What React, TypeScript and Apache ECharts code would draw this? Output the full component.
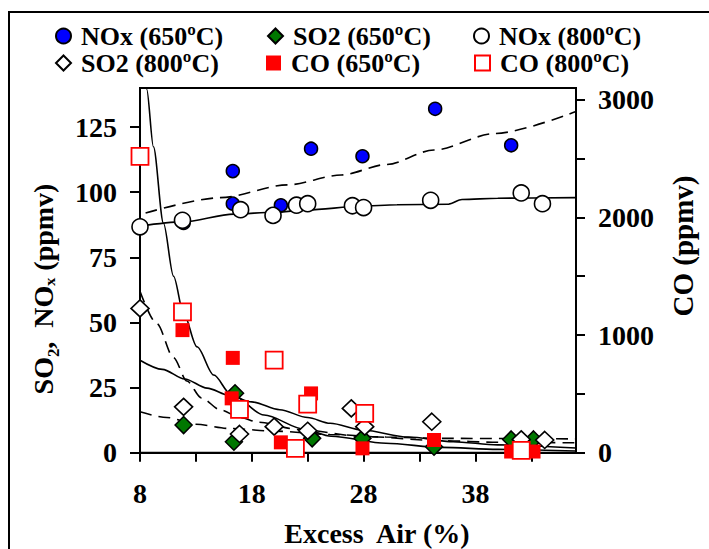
import React, { useEffect, useRef } from "react";
import * as echarts from "echarts";

const FONT = '"Liberation Serif", "Times New Roman", "DejaVu Serif", serif';

const legendNames = ["NOx (650ºC)", "SO2 (650ºC)", "NOx (800ºC)", "SO2 (800ºC)", "CO (650ºC)", "CO (800ºC)"];

// [excess air %, ppmv]
const noxAt650 = [[11.9, 88.2], [16.3, 108.1], [16.3, 95.6], [20.6, 95], [23.3, 116.7], [27.9, 113.8], [34.4, 132], [41.2, 118]];
const so2At650 = [[11.9, 10.6], [16.5, 22.8], [16.4, 4.2], [23.4, 5.5], [27.9, 5.5], [34.3, 2.3], [41.2, 5.1], [43.2, 5.1]];
const noxAt800 = [[8, 86.7], [11.8, 89.2], [17, 93.3], [19.9, 91.1], [22, 95], [23, 95.6], [27, 94.8], [28, 94.1], [34, 96.9], [42.1, 99.7], [44, 95.6]];
const so2At800 = [[8, 55.4], [11.9, 17.6], [16.9, 7.2], [20, 10], [23, 8.4], [26.9, 17], [28.1, 10], [34.1, 11.9], [42.1, 5.1], [44.2, 4.9]];
const coAt650 = [[11.8, 1042], [16.3, 806], [16.2, 462], [20.6, 88], [23.3, 504], [27.9, 37], [34.3, 108], [41.2, 10], [43.2, 10]];
const coAt800 = [[8, 2519], [11.8, 1197], [16.9, 368], [20, 787], [21.9, 37], [23, 413], [28.1, 334], [42.1, 20]];

// fitted trend curves
const noxFit800 = [[8, 87], [11.8, 88.6], [16.4, 91.6], [20, 92.3], [23, 93.2], [27.7, 94.6], [31, 95.2], [35.6, 95.4], [36.8, 97.2], [40, 97.7], [47, 97.9]];
const noxFit650 = [[8.5, 92], [15.2, 97.9], [21.2, 102.8], [26, 106.6], [30, 110.6], [34.3, 116.2], [39.7, 122.5], [47, 131]];
const coFit = [[8.3, 3400], [8.6, 3090], [9.2, 2600], [10.1, 1950], [11, 1500], [11.9, 1183], [13.1, 900], [14.6, 660], [16.1, 500], [19.1, 320], [22.7, 200], [25.1, 140], [30, 80], [35, 45], [40, 28], [47, 15]];
const so2FitSolid = [[8, 35.5], [10, 32], [12, 28.3], [14, 24.8], [16, 22], [18, 19.5], [20.5, 16.5], [23, 13.5], [25, 11.3], [28, 8.6], [32, 6], [36, 4.2], [40, 3], [47, 1.8]];
const so2FitSteep = [[8, 62], [9.5, 49.6], [11, 36.5], [12.2, 27.5], [13.5, 21], [15.2, 16.4], [17, 13.4], [18.6, 11.7], [22.2, 8.9], [28, 6.2], [35, 4.6], [40, 4], [47, 3.8]];
const so2FitFlat = [[8, 15.7], [10.4, 13.5], [13, 10.9], [16, 9.3], [20, 8.3], [25, 7], [30, 6], [35, 5.5], [47, 5.3]];

const xTickValues = [8, 13, 18, 23, 28, 33, 38, 43];
const xLabelValues = [8, 18, 28, 38];
const leftTickValues = [0, 25, 50, 75, 100, 125];
const rightTickValues = [0, 500, 1000, 1500, 2000, 2500, 3000];
const rightLabelValues = [0, 1000, 2000, 3000];

const labelStyle = { fontFamily: FONT, fontWeight: "bold", fontSize: 28, color: "#000" };
const plain = (v: number) => String(v);

function legendAt(name: string, left: number, top: number) {
  return {
    data: [name],
    left,
    top,
    padding: 0,
    itemGap: 0,
    itemWidth: 15,
    itemHeight: 15,
    selectedMode: false,
    textStyle: { fontFamily: FONT, fontWeight: "bold", fontSize: 26, lineHeight: 25, height: 25, color: "#000", padding: [0, 0, 0, 5] },
  };
}

function fitLine(data: number[][], yAxisIndex: number, dashed: boolean) {
  return {
    type: "line",
    data,
    yAxisIndex,
    symbol: "none",
    smooth: 0.3,
    smoothMonotone: "x",
    silent: true,
    z: 1,
    lineStyle: { color: "#000", width: 1.6, type: dashed ? [12, 7] : "solid" },
  };
}

function titleText(text: string, x: number, y: number, rotated: boolean, size: number) {
  return {
    type: "text",
    x,
    y,
    rotation: rotated ? Math.PI / 2 : 0,
    silent: true,
    style: { text, fill: "#000", font: `bold ${size}px ${FONT}`, align: "center", verticalAlign: "middle", textAlign: "center", textVerticalAlign: "middle" },
  };
}

export default function App() {
  const ref = useRef<HTMLDivElement>(null);
  useEffect(() => {
    const chart = echarts.init(ref.current!, null, { renderer: "svg" });
    chart.setOption({
      animation: false,
      backgroundColor: "#fff",
      legend: [
        legendAt(legendNames[0], 55, 23),
        legendAt(legendNames[1], 267, 23),
        legendAt(legendNames[2], 473, 23),
        legendAt(legendNames[3], 55, 50),
        legendAt(legendNames[4], 266, 50),
        legendAt(legendNames[5], 474, 50),
      ],
      grid: { left: 140, top: 88, width: 436, height: 364.7, show: true, borderColor: "#000", borderWidth: 2 },
      xAxis: {
        type: "value",
        min: 8,
        max: 47,
        axisLine: { onZero: false, lineStyle: { color: "#000", width: 2 } },
        axisTick: { customValues: xTickValues, length: 9, lineStyle: { color: "#000", width: 2 } },
        axisLabel: { customValues: xLabelValues, margin: 27, formatter: plain, ...labelStyle },
        splitLine: { show: false },
      },
      yAxis: [
        {
          type: "value",
          min: 0,
          max: 140,
          position: "left",
          axisLine: { show: true, onZero: false, lineStyle: { color: "#000", width: 2 } },
          axisTick: { show: true, customValues: leftTickValues, length: 10, lineStyle: { color: "#000", width: 2 } },
          axisLabel: { customValues: leftTickValues, margin: 23, formatter: plain, ...labelStyle },
          splitLine: { show: false },
        },
        {
          type: "value",
          min: 0,
          max: 3100,
          position: "right",
          axisLine: { show: true, onZero: false, lineStyle: { color: "#000", width: 2 } },
          axisTick: { show: true, customValues: rightTickValues, length: 9, lineStyle: { color: "#000", width: 2 } },
          axisLabel: { customValues: rightLabelValues, margin: 22, formatter: plain, ...labelStyle },
          splitLine: { show: false },
        },
      ],
      graphic: [
        { type: "rect", shape: { x: 9, y: 12, width: 720, height: 560 }, style: { fill: "none", stroke: "#000", lineWidth: 2 }, silent: true },
        titleText("SO₂,  NOₓ (ppmv)", 43, 289, true, 28),
        titleText("CO (ppmv)", 683, 246, true, 29),
        titleText("Excess  Air (%)", 377, 533, false, 28),
      ],
      series: [
        fitLine(noxFit800, 0, false),
        fitLine(noxFit650, 0, true),
        fitLine(coFit, 1, false),
        fitLine(so2FitSolid, 0, false),
        fitLine(so2FitSteep, 0, true),
        fitLine(so2FitFlat, 0, true),
        {
          name: legendNames[0], type: "scatter", data: noxAt650, yAxisIndex: 0, symbol: "circle", symbolSize: 13, z: 3,
          itemStyle: { color: "#0000ff", borderColor: "#000", borderWidth: 1.5, opacity: 1 },
        },
        {
          name: legendNames[1], type: "scatter", data: so2At650, yAxisIndex: 0, symbol: "diamond", symbolSize: [17, 17], z: 3,
          itemStyle: { color: "#007700", borderColor: "#000", borderWidth: 1.5, opacity: 1 },
        },
        {
          name: legendNames[2], type: "scatter", data: noxAt800, yAxisIndex: 0, symbol: "circle", symbolSize: 16, z: 3,
          itemStyle: { color: "#fff", borderColor: "#000", borderWidth: 1.6, opacity: 1 },
        },
        {
          name: legendNames[3], type: "scatter", data: so2At800, yAxisIndex: 0, symbol: "diamond", symbolSize: [18, 17], z: 3,
          itemStyle: { color: "#fff", borderColor: "#000", borderWidth: 1.6, opacity: 1 },
        },
        {
          name: legendNames[4], type: "scatter", data: coAt650, yAxisIndex: 1, symbol: "rect", symbolSize: 14, z: 3,
          itemStyle: { color: "#ff0000", borderColor: "#ff0000", borderWidth: 0, opacity: 1 },
        },
        {
          name: legendNames[5], type: "scatter", data: coAt800, yAxisIndex: 1, symbol: "rect", symbolSize: 17, z: 3,
          itemStyle: { color: "#fff", borderColor: "#ff0000", borderWidth: 1.8, opacity: 1 },
        },
      ],
    });
    return () => chart.dispose();
  }, []);
  return <div ref={ref} style={{ position: "fixed", left: 0, top: 0, width: 709, height: 549, background: "#fff" }} />;
}
